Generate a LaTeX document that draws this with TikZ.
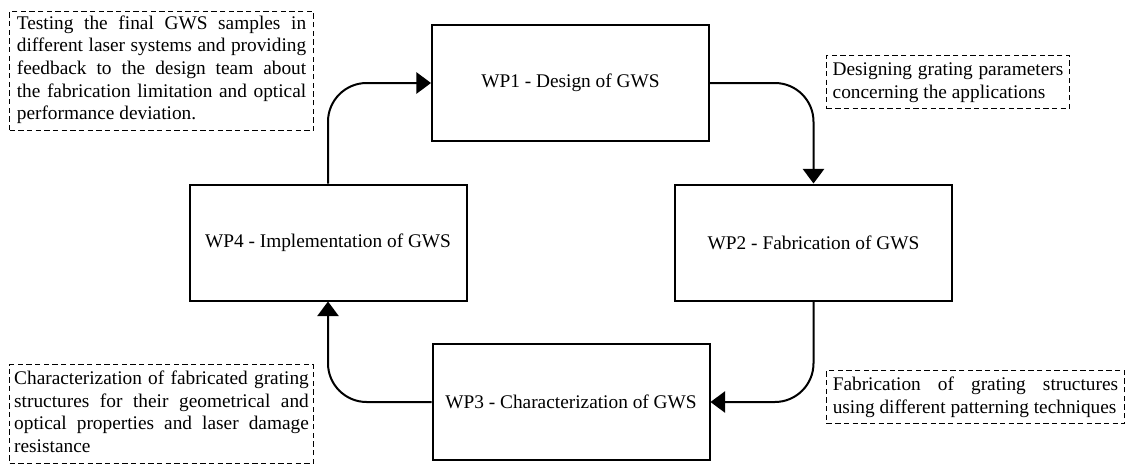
\documentclass[tikz,border=0pt]{standalone}
\usepackage{fontspec}
\setmainfont{Liberation Serif}
\usetikzlibrary{arrows.meta}

\begin{document}
\begin{tikzpicture}[x=0.75pt, y=-0.75pt,
  every node/.style={font=\fontsize{14.5}{17}\selectfont},
  wp/.style={draw, line width=1.5pt, minimum width=207.75pt, minimum height=87pt, inner sep=0pt},
  note/.style={draw, dash pattern=on 4pt off 2.5pt, line width=0.8pt, anchor=north west, align=justify, inner ysep=3pt},
  flow/.style={line width=1.5pt, rounded corners=29pt, -{Triangle[length=11pt,width=16pt]}}]
\useasboundingbox (0,0) rectangle (1129,465);

% Work packages.
\node[wp] (wp1) at (570.5,83) {WP1 - Design of GWS};
\node[wp] (wp2) at (813.5,242.5) {WP2 - Fabrication of GWS};
\node[wp] (wp3) at (571,402) {WP3 - Characterization of GWS};
\node[wp] (wp4) at (328,242.5) {WP4 - Implementation of GWS};

% Cycle.
\draw[flow] (wp4.north) |- (wp1.west);
\draw[flow] (wp1.east) -| (wp2.north);
\draw[flow] (wp2.south) |- (wp3.east);
\draw[flow] (wp3.west) -| (wp4.south);

% Notes.
\node[note, text width=217pt, inner xsep=5.5pt] (noteimpl) at (9,11)
  {Testing the final GWS samples in\linebreak different laser systems and providing\linebreak feedback to the design team about\linebreak the fabrication limitation and optical\linebreak performance deviation.\strut};
\node[note, text width=173pt, inner xsep=4.6pt] (notedesign) at (826,55)
  {\strut Designing grating parameters\linebreak concerning the applications\strut};
\node[note, text width=221pt, inner xsep=3.5pt] (notechar) at (9,364)
  {\strut Characterization of fabricated grating\linebreak structures for their geometrical and\linebreak optical properties and laser damage\linebreak resistance\strut};
\node[note, text width=214pt, inner xsep=4.7pt] (notefab) at (826,370)
  {\strut Fabrication of grating structures\linebreak using different patterning techniques\strut};
\end{tikzpicture}
\end{document}
